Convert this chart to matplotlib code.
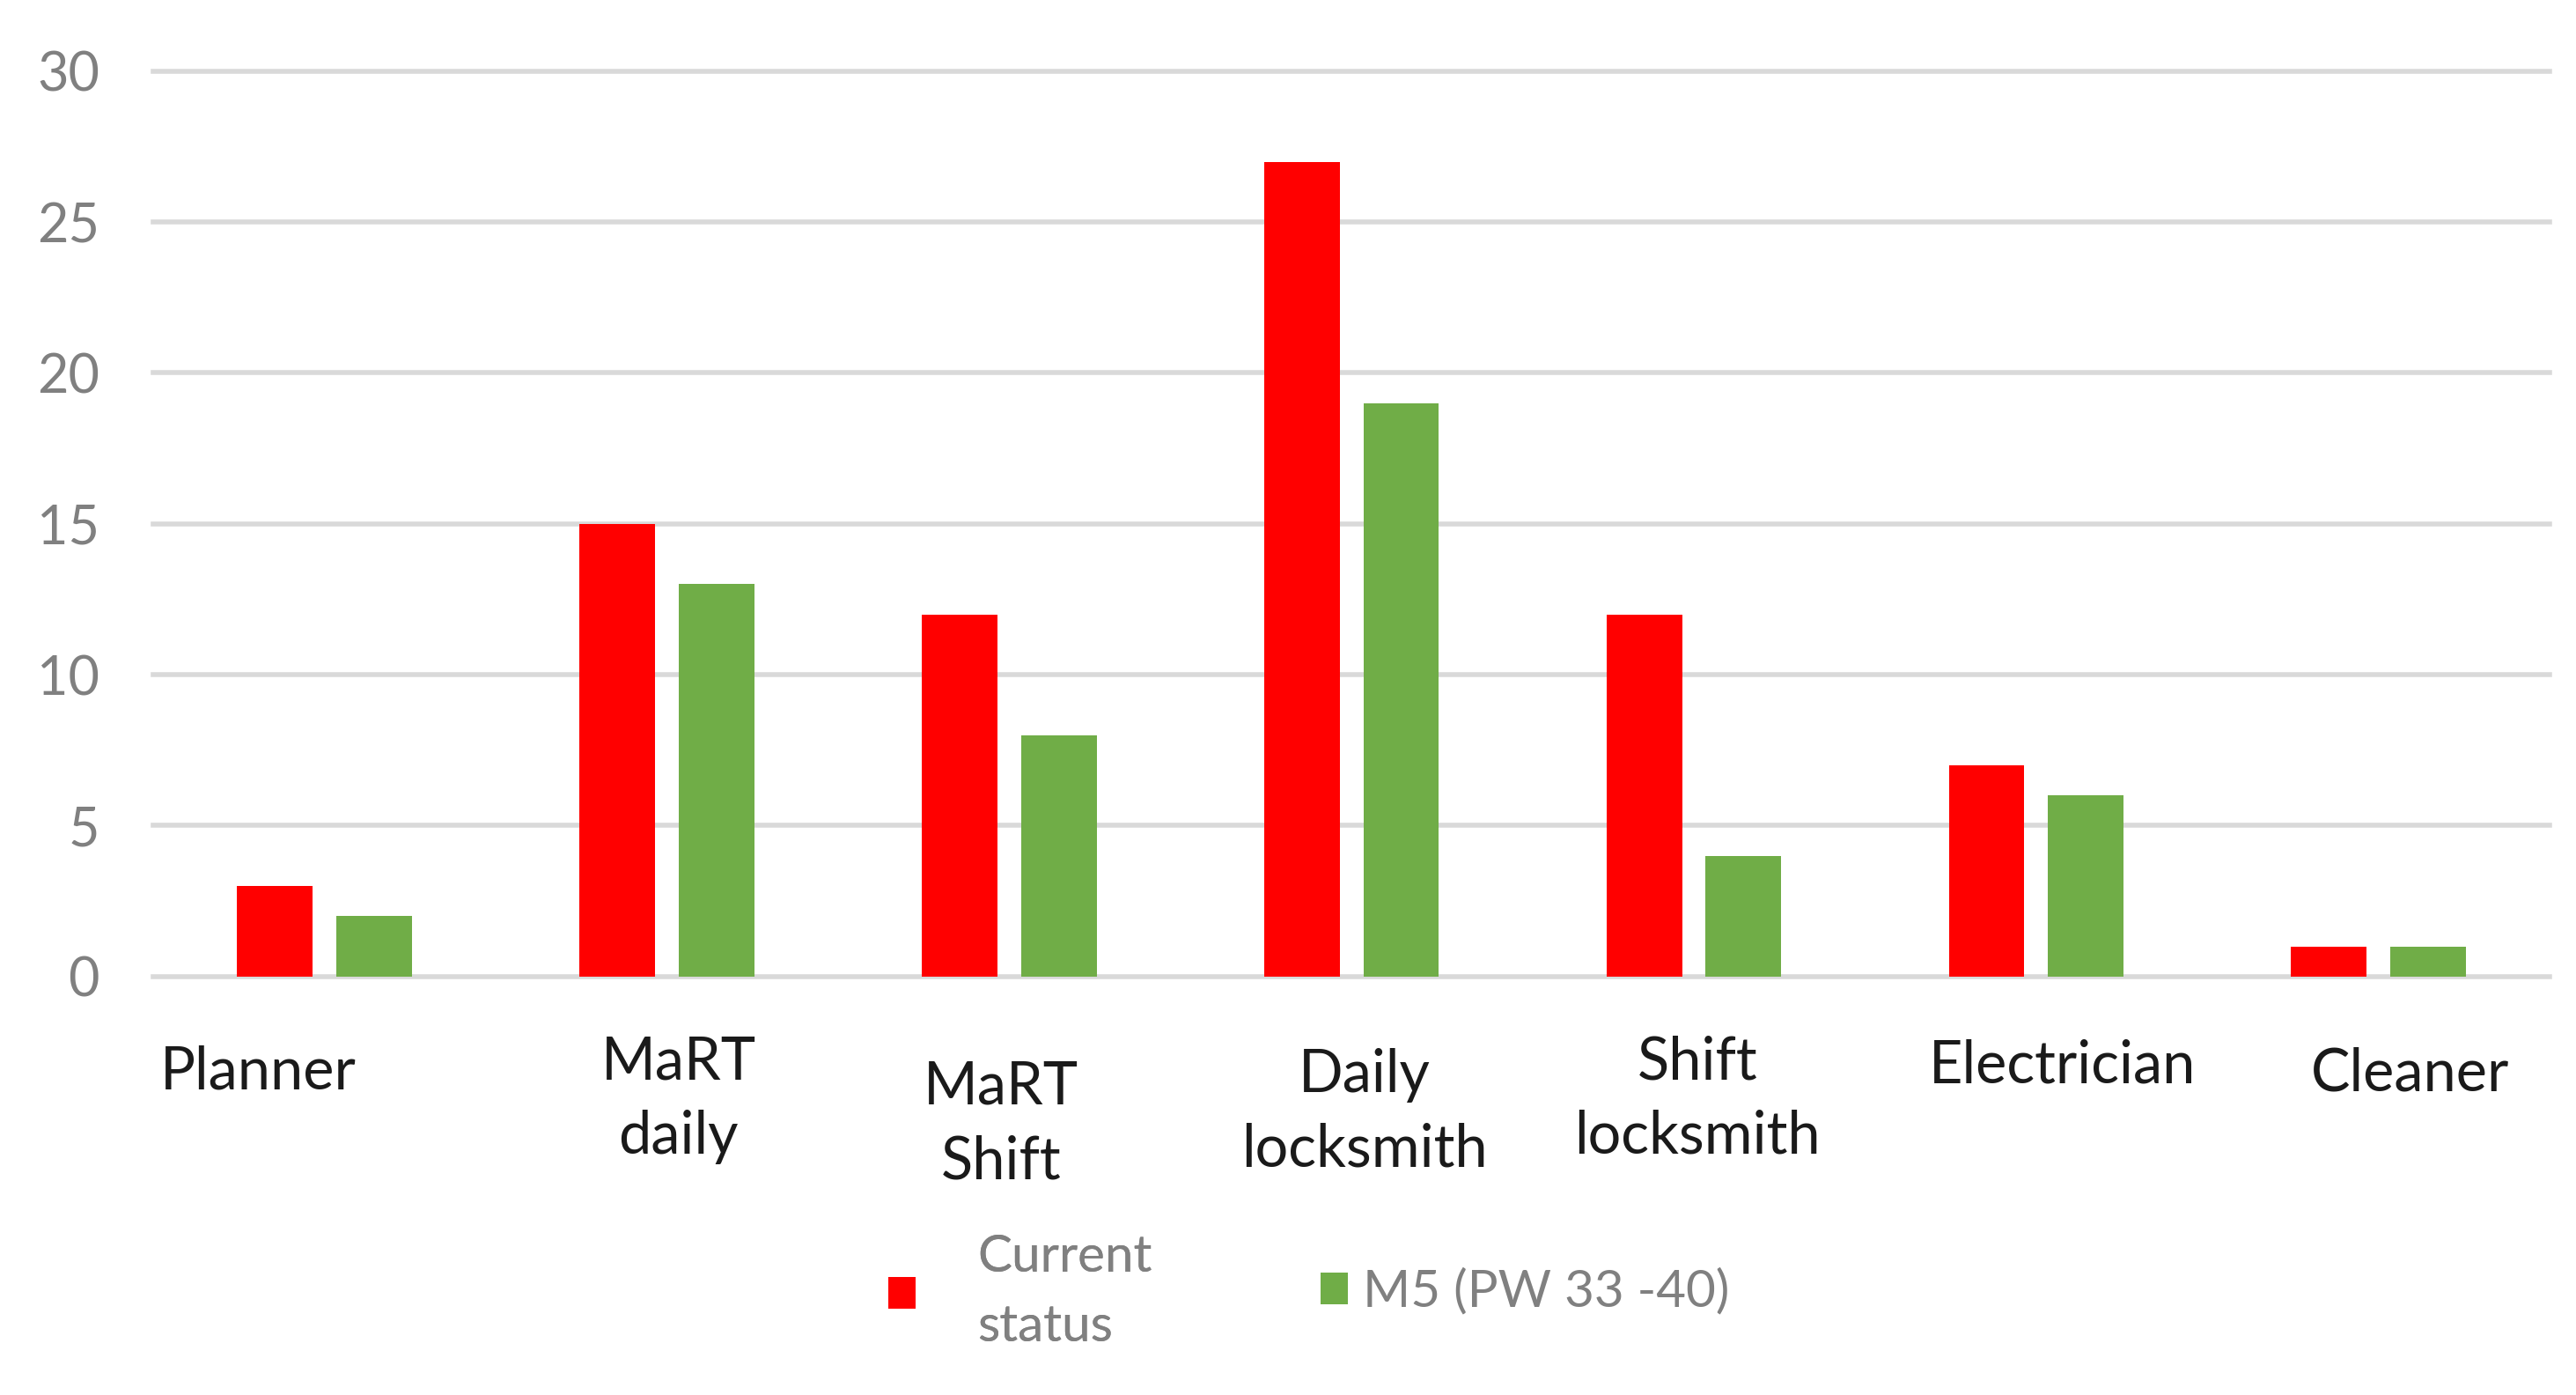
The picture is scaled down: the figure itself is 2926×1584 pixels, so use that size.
import matplotlib
matplotlib.use("Agg")
import matplotlib.pyplot as plt
import matplotlib.transforms as mtransforms
from matplotlib.patches import Patch
import numpy as np

categories = ["Planner", "MaRT\ndaily", "MaRT\nShift", "Daily\nlocksmith",
              "Shift\nlocksmith", "Electrician", "Cleaner"]
current_status = [3, 15, 12, 27, 12, 7, 1]
m5_pw33_40 = [2, 13, 8, 19, 4, 6, 1]
series_names = ["Current\nstatus", "M5 (PW 33 -40)"]
yticks = [0, 5, 10, 15, 20, 25, 30]

RED = "#FF0000"
GREEN = "#70AD47"
GRID = "#D9D9D9"
GRAY_TXT = "#808080"

plt.rcParams['font.family'] = ['Lato', 'DejaVu Sans']

fig = plt.figure(figsize=(29.26, 15.84), dpi=100)
fig.patch.set_facecolor("white")
ax = fig.add_axes([0.0595, 0.300, 0.9303, 0.649])

x = np.arange(len(categories))
w = 0.221
off = 0.145
ax.bar(x - off, current_status, width=w, color=RED, zorder=3)
ax.bar(x + off, m5_pw33_40, width=w, color=GREEN, zorder=3)

ax.set_xlim(-0.5, len(categories) - 0.5)
ax.set_ylim(0, 30)
ax.set_yticks(yticks)
ax.set_yticklabels([str(v) for v in yticks])
for s in ax.spines.values():
    s.set_visible(False)
for v in yticks:
    ax.axhline(v, color=GRID, lw=4, zorder=1, clip_on=False)

ax.tick_params(axis='y', length=0, pad=44, labelsize=44, labelcolor=GRAY_TXT)
ax.tick_params(axis='x', length=0, pad=48, labelsize=48, labelcolor="#1A1A1A")
ax.set_xticks(x)
ax.set_xticklabels(categories, linespacing=1.45)

# per-label nudges (display pixels of the reference, scaled)
dx = [-40, 7, -5, 8, 2, 16, 19]
dy = [-6, 0, -15, -8, 0, -2, -7]
sc = 2926 / 1564
for lab, ddx, ddy in zip(ax.get_xticklabels(), dx, dy):
    lab.set_transform(lab.get_transform() +
                      mtransforms.ScaledTranslation(ddx * sc / 100, ddy * sc / 100, fig.dpi_scale_trans))

h1 = Patch(facecolor=RED, edgecolor='none')
h2 = Patch(facecolor=GREEN, edgecolor='none')
leg1 = fig.legend([h1], [series_names[0]], loc='center left', bbox_to_anchor=(0.345, 0.074),
                  frameon=False, prop={'size': 42}, handlelength=0.52, handleheight=0.57,
                  handletextpad=1.2, borderpad=0, borderaxespad=0, labelcolor=GRAY_TXT)
for t in leg1.get_texts():
    t.set_linespacing(1.6)
fig.add_artist(leg1)
leg2 = fig.legend([h2], [series_names[1]], loc='center left', bbox_to_anchor=(0.5128, 0.074),
                  frameon=False, prop={'size': 42}, handlelength=0.52, handleheight=0.57,
                  handletextpad=0.3, borderpad=0, borderaxespad=0, labelcolor=GRAY_TXT)

fig.savefig("out.png", dpi=100, facecolor="white")
